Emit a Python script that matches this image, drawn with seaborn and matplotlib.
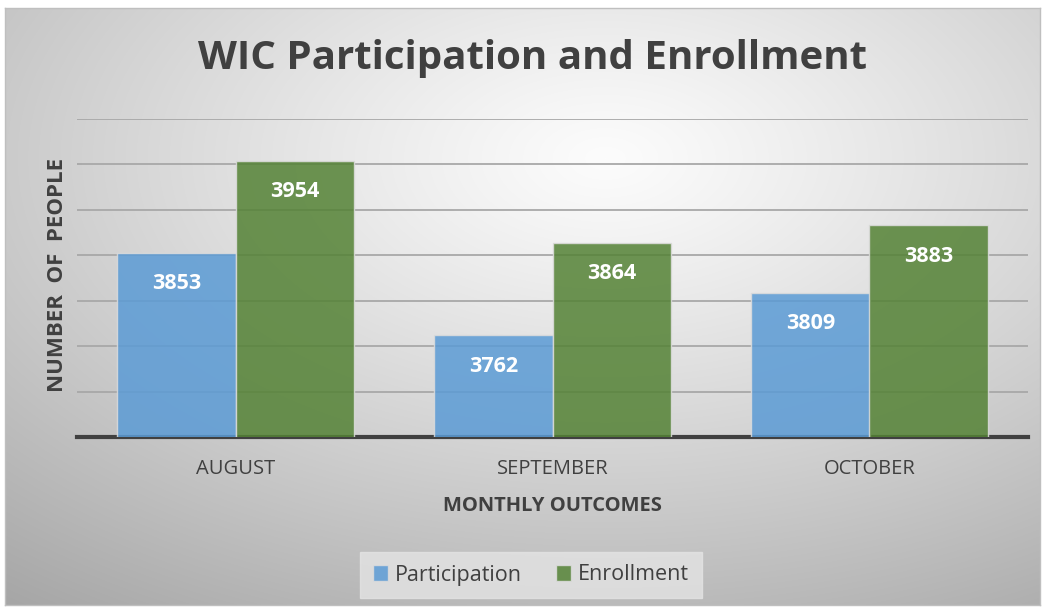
import numpy as np
import pandas as pd
import matplotlib
matplotlib.use("Agg")
import matplotlib.pyplot as plt
import seaborn as sns

months = ["AUGUST", "SEPTEMBER", "OCTOBER"]
participation = [3853, 3762, 3809]
enrollment = [3954, 3864, 3883]
series_names = ["Participation", "Enrollment"]
y_ticks = [3650, 3700, 3750, 3800, 3850, 3900, 3950, 4000]

df = pd.DataFrame({
    "month": months * 2,
    "series": [series_names[0]] * 3 + [series_names[1]] * 3,
    "value": participation + enrollment,
})

sns.set_theme(style="white")
plt.rcParams['font.family'] = ['Lato', 'DejaVu Sans']

W, H = 1046, 608
fig = plt.figure(figsize=(W / 100, H / 100), dpi=100)
fig.patch.set_facecolor("white")

# background gradient
bg = fig.add_axes([5 / W, 1 - 605 / H, 1035 / W, 597 / H], zorder=-10)
h, w = 597, 1035
yy, xx = np.mgrid[0:h, 0:w]
cx, cy = 600, 150
r = np.sqrt(((xx - cx) / w) ** 2 + ((yy - cy) / h) ** 2)
v = np.clip(252 - 92 * r ** 1.15, 0, 255) / 255.0
img = np.dstack([v, v, v])
bg.imshow(img, aspect="auto", interpolation="bilinear")
bg.set_xticks([]); bg.set_yticks([])
for s in bg.spines.values():
    s.set_color("#bfbfbf"); s.set_linewidth(1)

ax = fig.add_axes([77 / W, 1 - 437 / H, 951 / W, 318 / H])
ax.patch.set_alpha(0)

sns.barplot(data=df, x="month", y="value", hue="series",
            palette=["#5B9BD5", "#548235"], saturation=1, width=0.745, alpha=0.85,
            edgecolor="#dcdcdc", linewidth=1, ax=ax, zorder=3)

ax.set_ylim(y_ticks[0], y_ticks[-1])
ax.set_xlim(-0.5, 2.5)
ax.set_yticks(y_ticks)
ax.yaxis.grid(True, color="#a8a8a8", linewidth=1.3, zorder=0)
ax.set_axisbelow(True)
ax.tick_params(axis="y", left=False, labelleft=False)
ax.tick_params(axis="x", bottom=False, labelsize=14.5, labelcolor="#404040", pad=10)
for lab in ax.get_xticklabels():
    lab.set_fontfamily(['Open Sans', 'DejaVu Sans'])
for side in ["left", "top", "right"]:
    ax.spines[side].set_visible(False)
ax.spines["bottom"].set_color("#404040")
ax.spines["bottom"].set_linewidth(3)
ax.set_xlabel("")
ax.set_ylabel("")

for cont in ax.containers:
    ax.bar_label(cont, fmt="%d", padding=-30, color="white",
                 fontweight="bold", fontsize=15.5, family=['Open Sans', 'DejaVu Sans'])

handles, labels = ax.get_legend_handles_labels()
if ax.legend_ is not None:
    ax.legend_.remove()
leg = fig.legend(handles, labels, loc="center", bbox_to_anchor=(531 / W, 1 - 575 / H),
                 ncol=2, frameon=True, handlelength=0.7, handleheight=0.7,
                 handletextpad=0.3, columnspacing=1.6, borderpad=0.6, fancybox=False,
                 prop={'family': ['Open Sans', 'DejaVu Sans'], 'size': 15.5})
leg.get_frame().set_facecolor("#e4e4e4")
leg.get_frame().set_edgecolor("#e4e4e4")
for t in leg.get_texts():
    t.set_color("#404040")

fig.text(532 / W, 1 - 58 / H, "WIC Participation and Enrollment", ha="center", va="center",
         fontsize=29, fontweight="bold", color="#404040", family=['Open Sans', 'DejaVu Sans'])
fig.text(58 / W, 1 - 275 / H, "NUMBER  OF  PEOPLE", rotation=90, ha="center", va="center",
         fontsize=16, fontweight="bold", color="#404040", family=['Open Sans', 'DejaVu Sans'])
fig.text(552 / W, 1 - 506 / H, "MONTHLY OUTCOMES", ha="center", va="center",
         fontsize=14.5, fontweight="bold", color="#404040", family=['Open Sans', 'DejaVu Sans'])

fig.savefig("out.png", dpi=100)
